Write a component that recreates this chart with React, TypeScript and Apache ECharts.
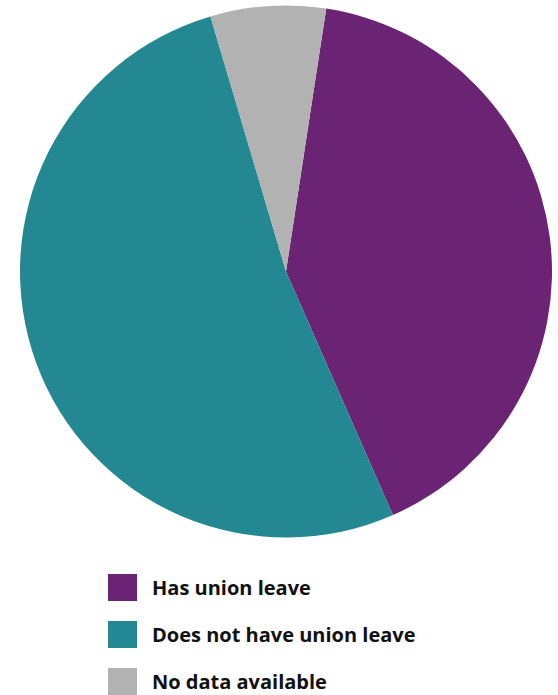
import React, { useEffect, useRef } from "react";
import * as echarts from "echarts";

const categories = ["Has union leave", "Does not have union leave", "No data available"];
const values = [41, 52, 7];
const colors = ["#6b2373", "#238891", "#b2b2b2"];

export default function App() {
  const ref = useRef<HTMLDivElement>(null);
  useEffect(() => {
    if (!ref.current) return;
    const chart = echarts.init(ref.current, null, { renderer: "svg" });
    chart.setOption({
      animation: false,
      legend: {
        orient: "vertical",
        left: 108,
        top: 574,
        padding: 0,
        itemWidth: 29,
        itemHeight: 27,
        itemGap: 20,
        icon: "rect",
        selectedMode: false,
        data: categories,
        textStyle: {
          fontFamily: "Open Sans",
          fontWeight: "bold",
          fontSize: 20,
          lineHeight: 20,
          color: "#111111",
          padding: [0, 0, 0, 10],
        },
      },
      series: [
        {
          type: "pie",
          center: [286, 271.5],
          radius: 266,
          startAngle: 81.3,
          clockwise: true,
          label: { show: false },
          labelLine: { show: false },
          emphasis: { disabled: true },
          silent: true,
          itemStyle: { borderWidth: 0 },
          data: categories.map((name, i) => ({
            name,
            value: values[i],
            itemStyle: { color: colors[i] },
          })),
        },
      ],
    });
    return () => chart.dispose();
  }, []);
  return (
    <div
      ref={ref}
      style={{ position: "fixed", left: 0, top: 0, width: 558, height: 695, background: "#fff" }}
    />
  );
}
